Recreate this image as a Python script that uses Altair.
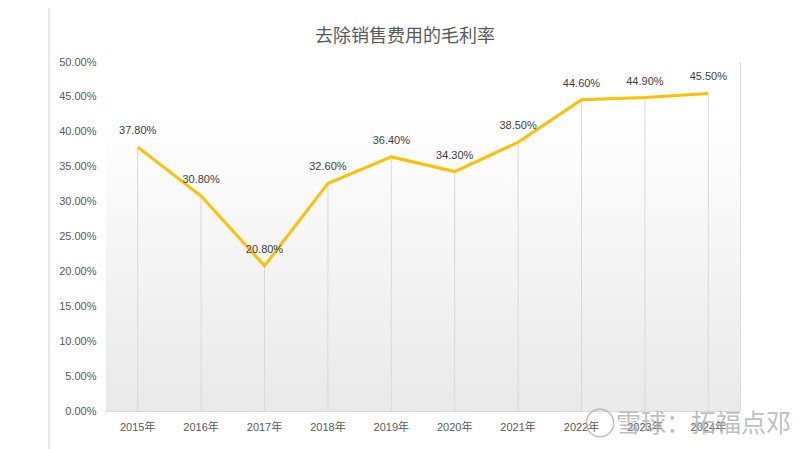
import altair as alt
import pandas as pd

years = ["2015年", "2016年", "2017年", "2018年", "2019年", "2020年", "2021年", "2022年", "2023年", "2024年"]
margin = [0.378, 0.308, 0.208, 0.326, 0.364, 0.343, 0.385, 0.446, 0.449, 0.455]
title_text = "去除销售费用的毛利率"
watermark = "雪球：拓福点邓"

df = pd.DataFrame({"year": years, "margin": margin})

W, H = 634, 349
FONT = "Liberation Sans, Noto Sans CJK SC"

x = alt.X("year:N", sort=years, title=None,
          scale=alt.Scale(paddingInner=0, paddingOuter=0),
          axis=alt.Axis(labelAngle=0, ticks=False, domainColor="#d9d9d9", domainWidth=1.2,
                        labelColor="#595959", labelFontSize=11, labelFont=FONT, labelPadding=10, grid=False))
y = alt.Y("margin:Q", title=None,
          scale=alt.Scale(domain=[0, 0.5], nice=False),
          axis=alt.Axis(format=".2%", values=[i * 0.05 for i in range(11)], ticks=False, domain=False,
                        grid=False, labelColor="#595959", labelFontSize=11, labelFont=FONT, labelPadding=10))

base = alt.Chart(df)

bg = base.mark_rect(
    fill=alt.Gradient(gradient="linear", x1=0, y1=0, x2=0, y2=1,
                      stops=[alt.GradientStop(color="#ffffff", offset=0),
                             alt.GradientStop(color="#ffffff", offset=0.15),
                             alt.GradientStop(color="#e9e9e9", offset=1)])
).encode(x=alt.value(0), x2=alt.value(W), y=alt.value(0), y2=alt.value(H))

drop = base.mark_rule(color="#d9d9d9", strokeWidth=1).encode(
    x=x, y=y, y2=alt.value(H))

line = base.mark_line(color="#FFC000", strokeWidth=3).encode(x=x, y=y)

labels = base.mark_text(dy=-16, fontSize=11, color="#404040", font=FONT).encode(
    x=x, y=y, text=alt.Text("margin:Q", format=".2%"))

title = alt.Chart(pd.DataFrame({"t": [title_text]})).mark_text(
    fontSize=18, color="#595959", font="Noto Sans CJK SC").encode(
    x=alt.value(299), y=alt.value(-25), text="t:N")

border = alt.Chart(pd.DataFrame({"a": [0]})).mark_rule(color="#d0d0d0", strokeWidth=1).encode(
    x=alt.value(-57), y=alt.value(-62), y2=alt.value(387))

wm_icon = alt.Chart(pd.DataFrame({"a": [0]})).mark_point(
    shape="circle", size=750, stroke="#b0b0b0", strokeWidth=1.5, opacity=0.8, filled=False).encode(
    x=alt.value(494), y=alt.value(361))

wm = alt.Chart(pd.DataFrame({"t": [watermark]})).mark_text(
    fontSize=25, color="#b0b0b0", opacity=0.8, align="left", font="Noto Sans CJK SC").encode(
    x=alt.value(510), y=alt.value(362), text="t:N")

chart = alt.layer(bg, drop, line, labels, title, border, wm_icon, wm).properties(
    width=W, height=H,
    autosize=alt.AutoSizeParams(type="none"),
    padding={"left": 98, "top": 54, "right": 52, "bottom": 38},
).configure_view(stroke=None).configure(background="white")

chart.save("out.html", embed_options={"renderer": "svg", "actions": False})
